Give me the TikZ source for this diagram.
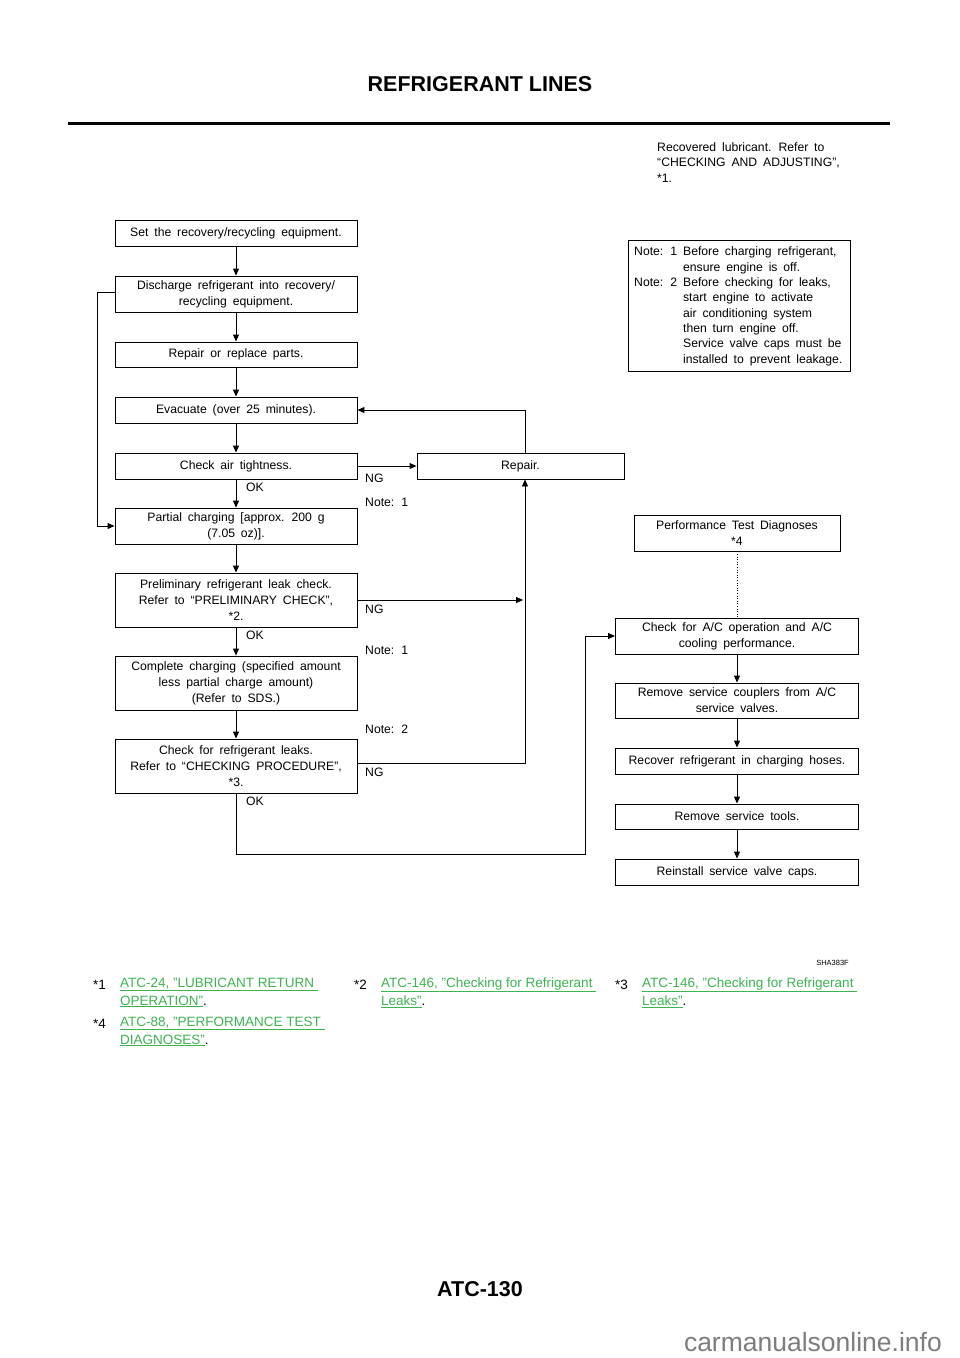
\documentclass[tikz,border=0pt]{standalone}
\usepackage{fontspec}
\setmainfont{Liberation Sans}
\usetikzlibrary{arrows.meta,calc}
\definecolor{lnk}{RGB}{60,180,80}
\definecolor{wm}{RGB}{125,125,125}
\newcommand\boxfont{\fontsize{12.2}{16}\selectfont\spaceskip=0.48em plus 0.1em minus 0.05em}
\newcommand\notefont{\fontsize{12.2}{15.3}\selectfont\spaceskip=0.48em plus 0.1em minus 0.05em}
\newcommand\fnfont{\fontsize{13.5}{17}\selectfont}
\newcommand\lk[1]{\textcolor{lnk}{\underline{#1}}}
\begin{document}
\begin{tikzpicture}[x=1pt,y=-1pt,
  box/.style={draw,line width=0.9pt,minimum width=242pt,inner sep=0pt,align=center,font=\boxfont},
  arr/.style={-{Triangle[length=7pt,width=6pt]},line width=0.9pt},
  lbl/.style={anchor=west,inner sep=0pt,font=\boxfont},
  fn/.style={anchor=west,inner sep=0pt,font=\fnfont}]
\useasboundingbox (0,0) rectangle (960,1358);
% header
\node[font=\bfseries\fontsize{21.5}{24}\selectfont,inner sep=0pt] (title) at (480,84) {REFRIGERANT LINES};
\draw[line width=3pt] (68,123) coordinate (r0) -- (890,123) coordinate (r1end);
% recovered lubricant
\node[anchor=north west,inner sep=0pt,align=left,font=\notefont] (rec) at (657,142.5)
  {Recovered lubricant. Refer to\\``CHECKING AND ADJUSTING'',\\*1.};
% note box
\node[draw,line width=0.9pt,minimum width=222pt,minimum height=131pt,inner sep=0pt] (note) at (739,305.5) {};
\node[anchor=north west,inner sep=0pt,font=\notefont] (notetxt) at (634,245)
  {\renewcommand\arraystretch{1}\begin{tabular}{@{}l@{\hspace{6pt}}l@{}}
  Note: 1 & Before charging refrigerant,\\
   & ensure engine is off.\\
  Note: 2 & Before checking for leaks,\\
   & start engine to activate\\
   & air conditioning system\\
   & then turn engine off.\\
   & Service valve caps must be\\
   & installed to prevent leakage.
  \end{tabular}};
% left column
\node[box,minimum height=26pt] (b1) at (236,233) {Set the recovery/recycling equipment.};
\node[box,minimum height=36pt] (b2) at (236,294) {Discharge refrigerant into recovery/\\recycling equipment.};
\node[box,minimum height=25pt] (b3) at (236,354.5) {Repair or replace parts.};
\node[box,minimum height=26pt] (b4) at (236,410) {Evacuate (over 25 minutes).};
\node[box,minimum height=26pt] (b5) at (236,466) {Check air tightness.};
\node[box,minimum height=36pt] (b6) at (236,526) {Partial charging [approx. 200 g\\(7.05 oz)].};
\node[box,minimum height=54pt] (b7) at (236,600) {Preliminary refrigerant leak check.\\Refer to ``PRELIMINARY CHECK'',\\*2.};
\node[box,minimum height=54pt] (b8) at (236,683) {Complete charging (specified amount\\less partial charge amount)\\(Refer to SDS.)};
\node[box,minimum height=54pt] (b9) at (236,766) {Check for refrigerant leaks.\\Refer to ``CHECKING PROCEDURE'',\\*3.};
\node[box,minimum width=207pt,minimum height=26pt] (rep) at (520.5,466) {Repair.};
% right column
\node[box,minimum width=206pt,minimum height=36pt] (ptd) at (737,533) {Performance Test Diagnoses\\*4};
\node[box,minimum width=243pt,minimum height=36pt] (c1) at (737,636) {Check for A/C operation and A/C\\cooling performance.};
\node[box,minimum width=243pt,minimum height=35pt] (c2) at (737,700.5) {Remove service couplers from A/C\\service valves.};
\node[box,minimum width=243pt,minimum height=26pt] (c3) at (737,761) {Recover refrigerant in charging hoses.};
\node[box,minimum width=243pt,minimum height=25pt] (c4) at (737,816.5) {Remove service tools.};
\node[box,minimum width=243pt,minimum height=26pt] (c5) at (737,872) {Reinstall service valve caps.};
% connectors left
\draw[arr] (b1) -- (b2);
\draw[arr] (b2) -- (b3);
\draw[arr] (b3) -- (b4);
\draw[arr] (b4) -- (b5);
\draw[arr] (b5) -- (b6);
\draw[arr] (b6) -- (b7);
\draw[arr] (b7) -- (b8);
\draw[arr] (b8) -- (b9);
\draw[arr] ([yshift=2pt]b2.west) -- ++(-17,0) |- (b6.west);
\draw[arr] (b5.east) -- (rep.west);
\draw[arr] ([xshift=4.5pt]rep.north) |- (b4.east);
\draw[arr] ([yshift=3pt]b9.east) -| ([xshift=4.5pt]rep.south);
\draw[arr] (b7.east) -- ($(b7.east -| rep.south)+(2.5,0)$);
\coordinate (bj) at (585,854);
\draw[arr] (b9.south) |- (bj) |- (c1.west);
% right connectors
\draw[dotted,line width=0.6pt] (ptd.south) -- (c1.north);
\draw[arr] (c1) -- (c2);
\draw[arr] (c2) -- (c3);
\draw[arr] (c3) -- (c4);
\draw[arr] (c4) -- (c5);
% labels
\node[lbl] (ng1) at (365,478) {NG};
\node[lbl] (ok1) at (246,487) {OK};
\node[lbl] (n1) at (365,502) {Note: 1};
\node[lbl] (ng2) at (365,609) {NG};
\node[lbl] (ok2) at (246,635) {OK};
\node[lbl] (n2) at (365,650) {Note: 1};
\node[lbl] (n3) at (365,729) {Note: 2};
\node[lbl] (ng3) at (365,772) {NG};
\node[lbl] (ok3) at (246,801) {OK};
% code
\node[anchor=east,inner sep=0pt,font=\fontsize{7.5}{9}\selectfont] (sha) at (849,963) {SHA383F};
% footnotes
\node[fn] (f1) at (93,984.5) {*1};
\node[fn] (f1a) at (120,984.5) {\lk{ATC-24, "LUBRICANT RETURN }};
\node[fn] (f1b) at (120,1001.5) {\lk{OPERATION"}.};
\node[fn] (f2) at (354,984.5) {*2};
\node[fn] (f2a) at (381,984.5) {\lk{ATC-146, "Checking for Refrigerant }};
\node[fn] (f2b) at (381,1001.5) {\lk{Leaks"}.};
\node[fn] (f3) at (615,984.5) {*3};
\node[fn] (f3a) at (642,984.5) {\lk{ATC-146, "Checking for Refrigerant }};
\node[fn] (f3b) at (642,1001.5) {\lk{Leaks"}.};
\node[fn] (f4) at (93,1023.5) {*4};
\node[fn] (f4a) at (120,1023.5) {\lk{ATC-88, "PERFORMANCE TEST }};
\node[fn] (f4b) at (120,1040.5) {\lk{DIAGNOSES"}.};
% footer
\node[font=\bfseries\fontsize{21.5}{24}\selectfont,inner sep=0pt] (pg) at (480,1289) {ATC-130};
\node[anchor=east,inner sep=0pt,text=wm,font=\fontsize{26.5}{28}\selectfont] (wmk) at (942,1342) {carmanualsonline.info};
\end{tikzpicture}
\end{document}
